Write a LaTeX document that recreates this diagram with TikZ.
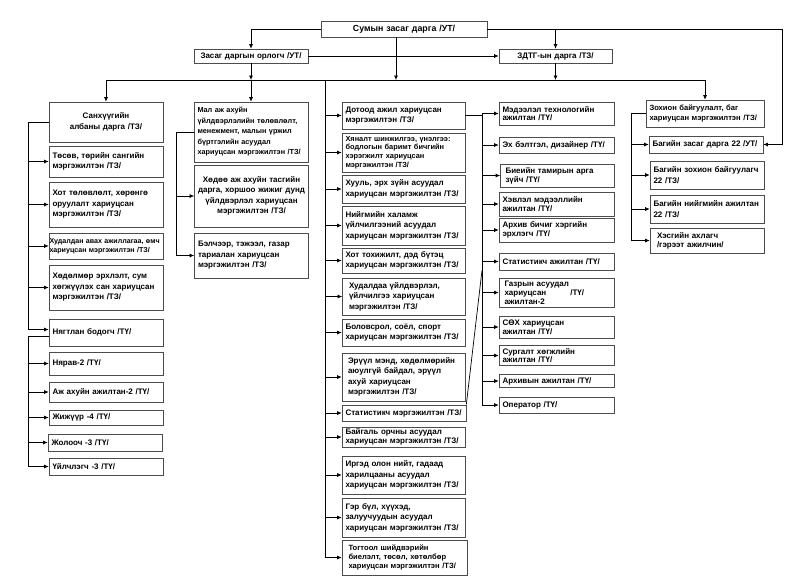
\documentclass[tikz,border=0pt]{standalone}
\usepackage{fontspec}
\setmainfont{Liberation Sans}
\usetikzlibrary{arrows.meta}

\begin{document}
\begin{tikzpicture}[x=1pt, y=-1pt, >={Latex[length=4.5pt,width=4pt]},
  box/.style={draw=black!70, line width=0.6pt, fill=white, inner xsep=0pt, inner ysep=1pt,
    align=left, font=\bfseries\fontsize{8}{10.5}\selectfont},
  sz/.style 2 args={minimum width=#1pt, text width=#1pt-7pt, minimum height=#2pt},
  tight/.style={font=\bfseries\fontsize{8}{8.8}\selectfont},
  small/.style={font=\bfseries\fontsize{7.4}{8.8}\selectfont},
  link/.style={line width=0.7pt}]
  \fill[white] (0,0) rectangle (800,587);
  \useasboundingbox (0,0) rectangle (800,587);

  % Top level
  \node[box, sz={166}{16}, align=center, font=\bfseries\fontsize{8.8}{10}\selectfont] (sum) at (404,29) {Сумын засаг дарга /УТ/};
  \node[box, sz={114}{14}, align=center] (orlogch) at (251,56) {Засаг даргын орлогч /УТ/};
  \node[box, sz={113}{14}, align=center] (zdtg) at (555.5,56) {ЗДТГ-ын дарга /ТЗ/};

  % Column 1
  \node[box, sz={114}{40}, align=center] (san) at (106,122) {Санхүүгийн\\албаны дарга /ТЗ/};
  \node[box, sz={114}{31}] (tosov) at (106,161.5) {Төсөв, төрийн сангийн\\мэргэжилтэн /ТЗ/};
  \node[box, sz={114}{45}] (hot) at (106,204.5) {Хот төлөвлөлт, хөрөнгө\\оруулалт хариуцсан\\мэргэжилтэн /ТЗ/};
  \node[box, sz={114}{26}, font=\bfseries\fontsize{7.1}{9}\selectfont, text width=113pt] (hudaldan) at (106,246) {Худалдан авах ажиллагаа,~өмч\\хариуцсан мэргэжилтэн /ТЗ/};
  \node[box, sz={114}{45}] (hodolmor) at (106,287.5) {Хөдөлмөр эрхлэлт, сум\\хөгжүүлэх сан хариуцсан\\мэргэжилтэн /ТЗ/};
  \node[box, sz={114}{27}] (nyagtlan) at (106,332.5) {Нягтлан бодогч /ТҮ/};
  \node[box, sz={114}{23}] (nyarav) at (106,363.5) {Нярав-2 /ТҮ/};
  \node[box, sz={114}{20}] (ajahui) at (106,392) {Аж ахуйн ажилтан-2 /ТҮ/};
  \node[box, sz={114}{15}] (jijuur) at (106,417.5) {Жижүүр -4 /ТҮ/};
  \node[box, sz={114}{17}] (jolooch) at (105,442.5) {Жолооч -3 /ТҮ/};
  \node[box, sz={114}{17}] (uilchlegch) at (106,466.5) {Үйлчлэгч -3 /ТҮ/};

  % Column 2
  \node[box, sz={114}{60}, font=\bfseries\fontsize{7.3}{10.5}\selectfont] (mal) at (251,132) {Мал аж ахуйн\\үйлдвэрлэлийн төлөвлөлт,\\менежмент, малын үржил\\бүртгэлийн асуудал\\хариуцсан мэргэжилтэн /ТЗ/};
  \node[box, sz={114}{62}, align=center, text width=112pt] (hodoo) at (251.5,196) {Хөдөө аж ахуйн тасгийн\\дарга, хоршоо жижиг дунд\\үйлдвэрлэл хариуцсан\\мэргэжилтэн /ТЗ/};
  \node[box, sz={114}{45}] (belcheer) at (251.5,255.5) {Бэлчээр, тэжээл, газар\\тариалан хариуцсан\\мэргэжилтэн /ТЗ/};

  % Column 3
  \node[box, sz={123}{27}] (dotood) at (403.5,115.5) {Дотоод ажил хариуцсан\\мэргэжилтэн /ТЗ/};
  \node[box, sz={123}{39}, small] (hyanalt) at (403.5,152.5) {Хяналт шинжилгээ, үнэлгээ:\\бодлогын баримт бичгийн\\хэрэгжилт хариуцсан\\мэргэжилтэн /ТЗ/};
  \node[box, sz={123}{28}] (huuli) at (403.5,189) {Хууль, эрх зүйн асуудал\\хариуцсан мэргэжилтэн /ТЗ/};
  \node[box, sz={123}{39}] (niigmiin) at (403.5,225.5) {Нийгмийн халамж\\үйлчилгээний асуудал\\хариуцсан мэргэжилтэн /ТЗ/};
  \node[box, sz={123}{25}] (hottoh) at (403.5,260.5) {Хот тохижилт, дэд бүтэц\\хариуцсан мэргэжилтэн /ТЗ/};
  \node[box, sz={123}{37}, text width=110pt] (hudaldaa) at (404,296.5) {Худалдаа үйлдвэрлэл,\\үйлчилгээ хариуцсан\\мэргэжилтэн /ТЗ/};
  \node[box, sz={123}{27}] (bolovsrol) at (403.5,332.5) {Боловсрол, соёл, спорт\\хариуцсан мэргэжилтэн /ТЗ/};
  \node[box, sz={123}{48}, text width=111pt] (eruul) at (403.5,377) {Эрүүл мэнд, хөдөлмөрийн\\аюулгүй байдал, эрүүл\\ахуй хариуцсан\\мэргэжилтэн /ТЗ/};
  \node[box, sz={124}{16}] (stat1) at (404,413) {Статистикч мэргэжилтэн /ТЗ/};
  \node[box, sz={123}{20}, tight] (baigal) at (403.5,437) {Байгаль орчны асуудал\\хариуцсан мэргэжилтэн /ТЗ/};
  \node[box, sz={123}{38}] (irgad) at (403.5,475) {Иргэд олон нийт, гадаад\\харилцааны асуудал\\хариуцсан мэргэжилтэн /ТЗ/};
  \node[box, sz={123}{39}] (ger) at (403.5,517.5) {Гэр бүл, хүүхэд,\\залуучуудын асуудал\\хариуцсан мэргэжилтэн /ТЗ/};
  \node[box, sz={125}{35}, font=\bfseries\fontsize{7.6}{9.2}\selectfont, text width=112pt] (togtool) at (404.5,557.5) {Тогтоол шийдвэрийн\\биелэлт, төсөл, хөтөлбөр\\хариуцсан мэргэжилтэн /ТЗ/};

  % Column 4
  \node[box, sz={115}{23}, tight] (medeelel) at (556.5,113.5) {Мэдээлэл технологийн\\ажилтан /ТҮ/};
  \node[box, sz={115}{16}] (eh) at (556.5,145) {Эх бэлтгэл, дизайнер /ТҮ/};
  \node[box, sz={114}{23}, tight, text width=104pt] (bieiin) at (557.5,175.5) {Биеийн тамирын арга\\зүйч /ТҮ/};
  \node[box, sz={115}{24}, tight] (hevlel) at (556.5,204) {Хэвлэл мэдээллийн\\ажилтан /ТҮ/};
  \node[box, sz={115}{24}, tight] (arhivbichig) at (556.5,230) {Архив бичиг хэргийн\\эрхлэгч /ТҮ/};
  \node[box, sz={115}{17}] (stat2) at (556.5,261.5) {Статистикч ажилтан /ТҮ/};
  \node[box, sz={115}{29}, tight, text width=104pt] (gazar) at (556.5,292.5) {Газрын асуудал\\хариуцсан\hspace{24pt}/ТҮ/\\ажилтан-2};
  \node[box, sz={115}{22}, tight] (soh) at (556.5,327) {СӨХ хариуцсан\\ажилтан /ТҮ/};
  \node[box, sz={115}{20}, tight] (surgalt) at (556.5,355.5) {Сургалт хөгжлийн\\ажилтан /ТҮ/};
  \node[box, sz={115}{13}] (arhivyn) at (556.5,381) {Архивын ажилтан /ТҮ/};
  \node[box, sz={115}{16}] (operator) at (556.5,405) {Оператор /ТҮ/};

  % Column 5
  \node[box, sz={118}{27}, font=\bfseries\fontsize{7.6}{10.5}\selectfont] (zohion) at (705,113.5) {Зохион байгуулалт, баг\\хариуцсан мэргэжилтэн /ТЗ/};
  \node[box, sz={114}{17}] (bagzasag) at (706,144.5) {Багийн засаг дарга 22 /УТ/};
  \node[box, sz={114}{28}] (bagzohion) at (707,175) {Багийн зохион байгуулагч\\22 /ТЗ/};
  \node[box, sz={114}{28}] (bagniigem) at (707,209) {Багийн нийгмийн ажилтан\\22 /ТЗ/};
  \node[box, sz={114}{25}, tight, text width=100pt] (hesgiin) at (707,240.5) {Хэсгийн ахлагч\\/гэрээт ажилчин/};

  % Helper lines
  \coordinate (bus) at (0,80);
  \coordinate (b1) at (28,0);
  \coordinate (b2) at (176,0);
  \coordinate (b3) at (325,0);
  \coordinate (b4) at (482,0);
  \coordinate (b5) at (631,0);
  \coordinate (rt) at (782,0);
  \coordinate (sumS) at ([xshift=-8pt]sum.south);
  \coordinate (ny1) at ([yshift=3pt]nyagtlan.west);
  \coordinate (ny2) at ([yshift=-4pt]nyagtlan.west);

  % Top connectors
  \draw[link,->] (sum.west) -| (orlogch.north);
  \draw[link,->] (sum.east) -| (rt |- bagzasag.east) -- (bagzasag.east);
  \draw[link,->] (sum.east -| zdtg.north) -- (zdtg.north);
  \draw[link,->] (sumS) -- (sumS |- bus);
  \draw[link,->] (orlogch.east) -- (zdtg.west);
  \draw[link,->] (orlogch.south) -- (orlogch.south |- bus);
  \draw[link,->] (zdtg.south) -- (zdtg.south |- bus);
  \draw[link] (san.north |- bus) -- (zohion.north |- bus);
  \foreach \n in {san,mal,zohion}
    \draw[link,->] (\n.north |- bus) -- (\n.north);

  % Column 1
  \draw[link,->] (san.west) -| (b1 |- ny1) -- (ny1);
  \foreach \n in {tosov,hot,hudaldan,hodolmor}
    \draw[link,->] (b1 |- \n.west) -- (\n.west);
  \draw[link,->] (ny2) -| (b1 |- uilchlegch.west) -- (uilchlegch.west);
  \foreach \n in {nyarav,ajahui,jijuur,jolooch}
    \draw[link,->] (b1 |- \n.west) -- (\n.west);

  % Column 2
  \draw[link,->] (mal.west) -| (b2 |- belcheer.west) -- (belcheer.west);
  \draw[link,->] (b2 |- hodoo.west) -- (hodoo.west);

  % Column 3
  \draw[link,->] (b3 |- bus) |- (togtool.west);
  \foreach \n in {dotood,hyanalt,huuli,niigmiin,hottoh,hudaldaa,bolovsrol,eruul,stat1,baigal,irgad,ger}
    \draw[link,->] (b3 |- \n.west) -- (\n.west);

  % Column 4
  \draw[link,->] (dotood.east) -| (b4 |- medeelel.west) -- (medeelel.west);
  \draw[link,->] (b4 |- dotood.east) |- (operator.west);
  \foreach \n in {eh,bieiin,hevlel,arhivbichig,stat2,gazar,soh,surgalt,arhivyn}
    \draw[link,->] (b4 |- \n.west) -- (\n.west);
  \draw[link] (stat1.north east) -- (b4 |- stat2.south);

  % Column 5
  \draw[link,->] (zohion.west) -| (b5 |- hesgiin.west) -- (hesgiin.west);
  \foreach \n in {bagzasag,bagzohion,bagniigem}
    \draw[link,->] (b5 |- \n.west) -- (\n.west);
\end{tikzpicture}
\end{document}
